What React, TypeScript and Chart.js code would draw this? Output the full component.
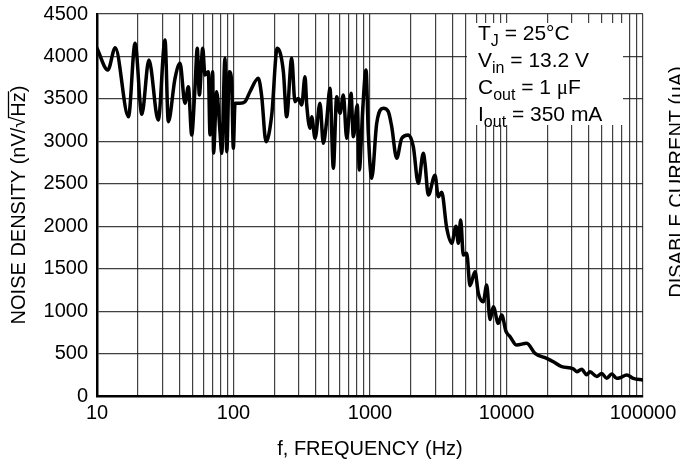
import React, { useEffect, useRef } from 'react';
import { Chart, registerables } from 'chart.js';

Chart.register(...registerables);

// Frequency (Hz) of each traced point
const frequencies = [
  10, 12.0, 13.6, 17.0, 19.0, 21.3, 24.0, 28.1, 31.5, 33.3, 37.3, 40.6, 44.1, 46.7, 49.4, 52.2,
  54.3, 56.2, 59.5, 61.8, 65.4, 67.3, 70.4, 71.4, 75.3, 79.6, 82.0, 86.6, 89.2, 93.2, 97.0, 99.7,
  102.6, 111.6, 121.4, 132.1, 152, 161, 173, 190.5, 209, 232,
  245, 267, 282, 298, 316, 334, 344, 364, 374, 396,
  430, 455, 482, 509, 539, 570, 603, 638, 675, 726,
  755, 807, 835, 884, 935, 972, 1029, 1120, 1251, 1362,
  1442, 1569, 1707, 1909, 2076, 2258, 2458, 2529, 2674, 2994,
  3166, 3352, 3647, 3967, 4266, 4436, 4618, 4825, 5110, 5403,
  5878, 6216, 6761, 7160, 7571, 8005, 8709, 9222, 9915, 10607,
  11877, 14061, 16176, 19704, 22028, 25380, 30859, 32681, 35550, 38671,
  40891, 45792, 49822, 54213, 58973, 64156, 67834, 75968, 84906, 100000,
];

// Noise density (nV/√Hz) at each frequency
const noiseDensity = [
  4096, 3840, 4103, 3290, 4155, 3318, 3958, 3251, 4194, 3231, 3742, 3919, 3448, 3643, 3075, 3628,
  4096, 3546, 4096, 3781, 3820, 3075, 3820, 2862, 3584, 3114, 2859, 3978, 2878, 3820, 3702, 2918,
  3448, 3448, 3467, 3584, 3742, 3526, 2996, 3310, 4096, 3820,
  3290, 3978, 3467, 3506, 3428, 3761, 3428, 3153, 3290, 3035,
  3448, 2977, 3251, 3624, 2682, 3526, 3330, 3546, 3035, 3565,
  3055, 3428, 2662, 3369, 3840, 3094, 2564, 3212, 3389, 3350,
  3173, 2800, 3035, 3075, 2937, 2505, 2859, 2741, 2368, 2600,
  2348, 2400, 1980, 1800, 2000, 1800, 2073, 1660, 1681, 1300,
  1464, 1210, 1111, 1308, 900, 1052, 856, 954, 760, 700,
  600, 621, 502, 443, 404, 345, 320, 286, 314, 250,
  286, 230, 266, 208, 260, 208, 215, 247, 208, 188,
];

const xGridValues = [
  10, 20, 30, 40, 50, 60, 70, 80, 90,
  100, 200, 300, 400, 500, 600, 700, 800, 900,
  1000, 2000, 3000, 4000, 5000, 6000, 7000, 8000, 9000,
  10000, 20000, 30000, 40000, 50000, 60000, 70000, 80000, 90000,
  100000,
];
const xTickLabels = [10, 100, 1000, 10000, 100000];
const yTickStep = 500;
const yMax = 4500;

const xTitle = 'f, FREQUENCY (Hz)';
const yTitleMain = 'NOISE DENSITY (nV/';
const yTitleRoot = '\u221A';
const yTitleHz = 'Hz';
const yTitleEnd = ')';
const rightTitle = 'DISABLE CURRENT (\u03BCA)';

// conditions box: [text, isSub, isSymbol]
const conditions: [string, boolean, boolean][][] = [
  [['T', false, false], ['J', true, false], [' = 25\u00B0C', false, false]],
  [['V', false, false], ['in', true, false], [' = 13.2 V', false, false]],
  [['C', false, false], ['out', true, false], [' = 1 ', false, false], ['\u03BC', false, true], ['F', false, false]],
  [['I', false, false], ['out', true, false], [' = 350 mA', false, false]],
];

const FONT = '"Liberation Sans", Arial, Helvetica, sans-serif';

const annotations = {
  id: 'annotations',
  afterDraw(chart: any) {
    const ctx: CanvasRenderingContext2D = chart.ctx;
    const area = chart.chartArea;
    ctx.save();

    // conditions box
    const bx = area.right - 176;
    const by = area.top + 9;
    ctx.fillStyle = '#ffffff';
    ctx.fillRect(bx, by, 156, 102);
    ctx.fillStyle = '#000';
    ctx.textBaseline = 'alphabetic';
    ctx.textAlign = 'left';
    conditions.forEach((line, i) => {
      let x = bx + 11;
      const y = by + 17 + i * 27;
      line.forEach(([t, sub, sym]) => {
        if (sub) {
          ctx.font = `16px ${FONT}`;
          ctx.fillText(t, x, y + 6);
        } else if (sym) {
          ctx.font = `21px "Liberation Serif", "Times New Roman", serif`;
          ctx.fillText(t, x, y);
        } else {
          ctx.font = `21px ${FONT}`;
          ctx.fillText(t, x, y);
        }
        x += ctx.measureText(t).width;
      });
    });

    // x title
    ctx.font = `20px ${FONT}`;
    ctx.textAlign = 'center';
    ctx.fillText(xTitle, (area.left + area.right) / 2, 455);

    // y title (rotated) with overline on the root
    ctx.save();
    ctx.translate(25, (area.top + area.bottom) / 2);
    ctx.rotate(-Math.PI / 2);
    ctx.font = `20px ${FONT}`;
    ctx.textAlign = 'left';
    const wMain = ctx.measureText(yTitleMain).width;
    const wRoot = ctx.measureText(yTitleRoot).width;
    const wHz = ctx.measureText(yTitleHz).width;
    const wEnd = ctx.measureText(yTitleEnd).width;
    const total = wMain + wRoot + wHz + wEnd;
    let sx = -total / 2;
    ctx.fillText(yTitleMain, sx, 0);
    sx += wMain;
    ctx.fillText(yTitleRoot, sx, 0);
    const rootEnd = sx + wRoot;
    sx += wRoot;
    ctx.fillText(yTitleHz, sx, 0);
    ctx.lineWidth = 1.3;
    ctx.strokeStyle = '#000';
    ctx.beginPath();
    ctx.moveTo(rootEnd - 1.5, -16.5);
    ctx.lineTo(sx + wHz + 1, -16.5);
    ctx.stroke();
    sx += wHz;
    ctx.fillText(yTitleEnd, sx, 0);
    ctx.restore();

    // clipped title of neighbouring figure
    ctx.save();
    ctx.translate(683, 182);
    ctx.rotate(-Math.PI / 2);
    ctx.font = `20px ${FONT}`;
    ctx.textAlign = 'center';
    ctx.fillText(rightTitle, 0, 0);
    ctx.restore();

    ctx.restore();
  },
};

export default function App() {
  const ref = useRef<HTMLCanvasElement>(null);

  useEffect(() => {
    if (!ref.current) return;
    const gridColor = 'rgba(30,30,30,0.85)';
    const tickFont = { family: FONT, size: 20 };
    const chart = new Chart(ref.current, {
      type: 'line',
      data: {
        datasets: [
          {
            data: frequencies.map((f, i) => ({ x: f, y: noiseDensity[i] })),
            borderColor: '#000',
            borderWidth: 3.5,
            pointRadius: 0,
            fill: false,
            cubicInterpolationMode: 'monotone',
            borderJoinStyle: 'round',
            borderCapStyle: 'round',
          },
        ],
      },
      options: {
        responsive: false,
        animation: false,
        events: [],
        layout: { padding: { top: 14, right: 37, left: 0, bottom: 0 } },
        plugins: { legend: { display: false }, tooltip: { enabled: false } },
        scales: {
          x: {
            type: 'logarithmic',
            min: 10,
            max: 100000,
            afterBuildTicks: (s: any) => {
              s.ticks = xGridValues.map((v) => ({ value: v }));
            },
            afterFit: (s: any) => {
              s.height = 72;
              s.paddingLeft = 0;
              s.paddingRight = 0;
            },
            ticks: {
              autoSkip: false,
              maxRotation: 0,
              minRotation: 0,
              padding: 5,
              color: '#000',
              font: tickFont,
              callback: (v: any) => (xTickLabels.includes(Number(v)) ? String(v) : ''),
            },
            grid: { color: gridColor, lineWidth: 1.2, drawTicks: false },
            border: { color: '#000', width: 2.5 },
          },
          y: {
            min: 0,
            max: yMax,
            afterFit: (s: any) => {
              s.width = 97;
              s.paddingTop = 0;
              s.paddingBottom = 0;
            },
            ticks: {
              stepSize: yTickStep,
              padding: 9,
              color: '#000',
              font: tickFont,
              callback: (v: any) => String(v),
            },
            grid: { color: gridColor, lineWidth: 1.2, drawTicks: false },
            border: { color: '#000', width: 2.5 },
          },
        },
      },
      plugins: [annotations],
    } as any);
    return () => chart.destroy();
  }, []);

  return (
    <div style={{ position: 'fixed', left: 0, top: 0, width: 680, height: 468, background: '#fff' }}>
      <canvas ref={ref} width={680} height={468} style={{ display: 'block', width: 680, height: 468 }} />
    </div>
  );
}
